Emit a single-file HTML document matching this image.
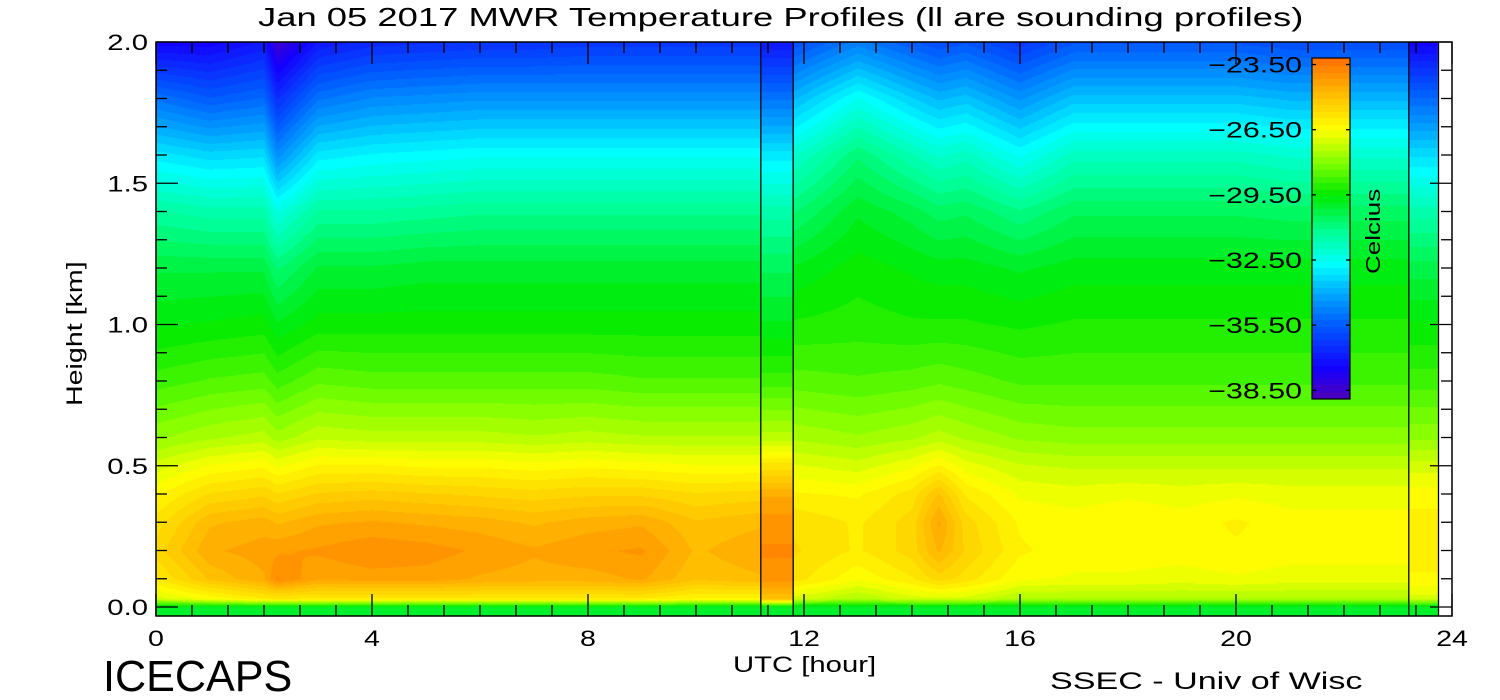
<!DOCTYPE html>
<html><head><meta charset="utf-8">
<style>
html,body{margin:0;padding:0;background:#fff;width:1500px;height:700px;overflow:hidden}
#wrap{position:relative;width:1500px;height:700px;font-family:"Liberation Sans",sans-serif;color:#000}
.t{position:absolute;white-space:nowrap;font-weight:normal}
canvas{position:absolute;left:0;top:0}
svg{position:absolute;left:0;top:0}
</style></head>
<body>
<div id="wrap">
<canvas id="cv" width="1500" height="700"></canvas>
<svg id="ov" width="1500" height="700"></svg>
<div class="t" style="left:258px;top:2px;font-size:26px;transform:scaleX(1.4);transform-origin:0 0">Jan 05 2017 MWR Temperature Profiles (ll are sounding profiles)</div>
<div class="t" style="left:62px;top:406px;font-size:22px;transform:rotate(-90deg) scaleX(1.3);transform-origin:0 0">Height [km]</div>
<div class="t" style="left:733px;top:652px;font-size:22px;transform:scaleX(1.33);transform-origin:0 0">UTC [hour]</div>
<div class="t" style="left:103px;top:652px;font-size:44px;transform:scaleX(0.98);transform-origin:0 0;-webkit-text-stroke:0">ICECAPS</div>
<div class="t" style="left:1050px;top:668px;font-size:24px;transform:scaleX(1.42);transform-origin:0 0">SSEC - Univ of Wisc</div>
<div class="t" style="left:1363px;top:274px;font-size:20px;transform:rotate(-90deg) scaleX(1.3);transform-origin:0 0">Celcius</div>
</div>
<script>
// ---- data ----
const heights = [0,0.03,0.1,0.2,0.3,0.4,0.5,0.6,0.8,1.0,1.2,1.4,1.6,1.8,2.0];
const timesA = [0,1,2,2.25,3,4,5,6,7,8,9,10,11.2];
const tempsA = [
[-30,-27,-26,-25.5,-25.8,-26.3,-27,-27.8,-28.8,-29.6,-30.2,-31.3,-33,-35,-37.5],
[-30,-26.5,-25,-24.5,-24.8,-25.6,-26.5,-27.5,-28.6,-29.5,-30.2,-31.5,-33.3,-35.5,-37.5],
[-30,-26,-24.5,-24.3,-24.6,-25.4,-26.3,-27.3,-28.5,-29.4,-30.2,-31.5,-33.2,-35.2,-37],
[-30,-26,-23.8,-24.2,-24.8,-25.6,-26.6,-27.6,-28.8,-29.8,-30.8,-32.3,-34.5,-36.5,-38.5],
[-30,-26,-24.4,-24.1,-24.5,-25.3,-26.2,-27.2,-28.4,-29.4,-30.1,-31.3,-33,-35,-37],
[-30,-26,-24.3,-23.9,-24.4,-25.2,-26.2,-27.3,-28.5,-29.4,-30.1,-31.3,-32.8,-34.6,-36.6],
[-30,-26,-24.3,-24,-24.5,-25.3,-26.3,-27.3,-28.5,-29.4,-30,-31.2,-32.7,-34.5,-36.5],
[-30,-26,-24.5,-24.2,-24.6,-25.4,-26.3,-27.3,-28.5,-29.4,-30,-31.1,-32.6,-34.4,-36.4],
[-30,-26,-24.6,-24.4,-24.8,-25.5,-26.4,-27.4,-28.5,-29.4,-30,-31.1,-32.6,-34.4,-36.4],
[-30,-26,-24.6,-24.2,-24.6,-25.4,-26.3,-27.3,-28.5,-29.4,-30,-31.1,-32.6,-34.4,-36.3],
[-30,-26,-24.4,-24.1,-24.5,-25.4,-26.4,-27.4,-28.6,-29.4,-30,-31.1,-32.6,-34.4,-36.3],
[-30,-26.3,-25,-24.8,-25,-25.6,-26.5,-27.4,-28.6,-29.4,-30,-31.1,-32.6,-34.4,-36.3],
[-30,-26.3,-24.8,-24.5,-24.8,-25.5,-26.5,-27.4,-28.6,-29.4,-30,-31.1,-32.6,-34.4,-36.3]
];
const timesB = [11.8,13,14,14.5,15,16,17,18,19,20,21,22,23.2];
const tempsB = [
[-30,-27,-25.8,-25.6,-25.7,-26.2,-26.8,-27.5,-28.5,-29.2,-29.8,-30.8,-32.0,-33.8,-35.8],
[-30,-27.5,-26.5,-26,-26,-26.3,-27,-27.7,-28.6,-29.1,-29.4,-29.9,-30.8,-32.5,-34.8],
[-30,-27,-26,-25.5,-25.5,-25.8,-26.6,-27.5,-28.5,-29.2,-29.6,-30.3,-31.6,-33.4,-35.5],
[-30,-27,-25.5,-24.7,-24.4,-25,-26.2,-27.3,-28.4,-29.2,-29.7,-30.6,-32.0,-33.8,-35.8],
[-30,-27,-25.8,-25.4,-25.5,-26,-26.7,-27.5,-28.5,-29.2,-29.7,-30.5,-31.8,-33.6,-35.6],
[-30,-27.5,-26.5,-26.2,-26.3,-26.6,-27.1,-27.8,-28.7,-29.3,-29.9,-31.0,-32.6,-34.4,-36.3],
[-30,-27.5,-26.6,-26.4,-26.4,-26.7,-27.2,-27.9,-28.7,-29.2,-29.7,-30.5,-31.8,-33.6,-35.6],
[-30,-27.5,-26.6,-26.4,-26.3,-26.6,-27.2,-27.9,-28.7,-29.2,-29.7,-30.5,-31.8,-33.6,-35.6],
[-30,-27.5,-26.7,-26.4,-26.4,-26.7,-27.2,-27.9,-28.7,-29.2,-29.7,-30.5,-31.8,-33.6,-35.6],
[-30,-27.5,-26.6,-26.3,-26.2,-26.6,-27.2,-27.9,-28.7,-29.2,-29.7,-30.5,-31.8,-33.6,-35.6],
[-30,-27.5,-26.7,-26.4,-26.4,-26.7,-27.2,-27.9,-28.7,-29.2,-29.7,-30.6,-32.0,-33.8,-35.8],
[-30,-27.5,-26.7,-26.4,-26.4,-26.7,-27.2,-27.9,-28.7,-29.2,-29.7,-30.6,-32.0,-33.8,-35.8],
[-30,-27.5,-26.7,-26.4,-26.4,-26.7,-27.2,-27.9,-28.7,-29.2,-29.7,-30.6,-32.0,-33.8,-35.8]
];
const sondeTimes = [[11.2,11.8],[23.2,23.75]];
const sondeTemps = [
[-30,-25,-24,-23.8,-24,-24.5,-25.8,-27.3,-28.8,-29.8,-30.5,-31.5,-33,-35,-37],
[-30,-27,-26.3,-26.1,-26.1,-26.4,-27,-27.8,-28.8,-29.5,-30.3,-31.5,-33.2,-35.2,-37.5]
];
const xTicks = [0,4,8,12,16,20,24];
const yTicks = ["0.0","0.5","1.0","1.5","2.0"];
const cbTicks = ["-23.50","-26.50","-29.50","-32.50","-35.50","-38.50"];

// ---- scales ----
const X0=156, X1=1452, YT=42, YB=616;
const xs = t => X0 + (X1-X0)*t/24;
const ys = h => 607 - 282.5*h;
const hAt = y => (607-y)/282.5;
const tAt = x => (x-X0)*24/(X1-X0);
const VMIN=-38.9, VMAX=-23.2;
const stops=[[-38.9,[80,0,180]],[-37.5,[20,0,255]],[-35.5,[0,90,255]],[-34,[0,170,255]],[-32.7,[0,255,255]],[-31.2,[0,255,150]],[-29.5,[0,235,0]],[-28,[130,255,0]],[-26.5,[255,255,0]],[-25,[255,195,0]],[-23.2,[255,110,0]]];
function cmap(v){
  v=Math.round(v/0.3)*0.3;
  if(v<=stops[0][0]) return stops[0][1];
  for(let i=1;i<stops.length;i++){ if(v<=stops[i][0]){const a=stops[i-1],b=stops[i],f=(v-a[0])/(b[0]-a[0]);return a[1].map((c,k)=>Math.round(c+(b[1][k]-c)*f));}}
  return stops[stops.length-1][1];
}
function profAt(row,h){
  if(h<=heights[0]) return row[0];
  for(let i=1;i<heights.length;i++){ if(h<=heights[i]){const f=(h-heights[i-1])/(heights[i]-heights[i-1]);return row[i-1]+(row[i]-row[i-1])*f;}}
  return row[row.length-1];
}
function gridVal(times,temps,t,h){
  let i=0; while(i<times.length-2 && t>times[i+1]) i++;
  let f=(t-times[i])/(times[i+1]-times[i]); f=Math.max(0,Math.min(1,f));
  return profAt(temps[i],h)*(1-f)+profAt(temps[i+1],h)*f;
}
const cv=document.getElementById('cv'), ctx=cv.getContext('2d');
const img=ctx.createImageData(X1-X0,YB-YT);
for(let y=YT;y<YB;y++){
  const h=Math.max(0,hAt(y));
  for(let x=X0;x<X1;x++){
    const t=tAt(x+0.5); let v=null;
    for(let s=0;s<sondeTimes.length;s++){ if(t>=sondeTimes[s][0]&&t<sondeTimes[s][1]) v=profAt(sondeTemps[s],h); }
    if(v===null){
      if(t>=sondeTimes[1][1]) { v=null; }
      else if(t<sondeTimes[0][0]) v=gridVal(timesA,tempsA,t,h);
      else v=gridVal(timesB,tempsB,t,h);
    }
    const p=((y-YT)*(X1-X0)+(x-X0))*4;
    const c = v===null?[255,255,255]:cmap(v);
    img.data[p]=c[0];img.data[p+1]=c[1];img.data[p+2]=c[2];img.data[p+3]=255;
  }
}
ctx.putImageData(img,X0,YT);
// colorbar
const CBX=1312,CBW=38,CBT=58,CBB=399;
for(let y=CBT;y<CBB;y++){const v=VMAX-(VMAX-VMIN)*(y-CBT)/(CBB-CBT);const c=cmap(v);ctx.fillStyle=`rgb(${c[0]},${c[1]},${c[2]})`;ctx.fillRect(CBX,y,CBW,1);}

// ---- overlay ----
const NS='http://www.w3.org/2000/svg', ov=document.getElementById('ov');
function el(tag,attrs,name){const e=document.createElementNS(NS,tag);for(const k in attrs)e.setAttribute(k,attrs[k]);


ov.appendChild(e);return e;}
function line(x1,y1,x2,y2,name){return el('line',{x1,y1,x2,y2,stroke:'#000','stroke-width':1.3},name);}
function widen(e,k){const w=e.getComputedTextLength();e.setAttribute('textLength',w*k);e.setAttribute('lengthAdjust','spacingAndGlyphs');}
el('rect',{x:X0,y:YT,width:X1-X0,height:YB-YT,fill:'none',stroke:'#000','stroke-width':1.5},'plot-frame');
sondeTimes.forEach((s,i)=>{line(xs(s[0]),YT,xs(s[0]),YB,'sounding-edge');line(xs(s[1]),YT,xs(s[1]),YB,'sounding-edge');});
for(let k=0;k<=36;k++){const t=k*24/36,x=xs(t),maj=k%6===0,L=maj?22:11;
  line(x,YB,x,YB-L,'x-tick');line(x,YT,x,YT+L,'x-tick');}
xTicks.forEach(t=>{const e=el('text',{x:xs(t),y:646,'font-size':22,'text-anchor':'middle','font-family':'Liberation Sans'},'x-tick-label');e.textContent=t;widen(e,1.3);});
for(let k=0;k<=20;k++){const h=k*0.1,y=ys(h),maj=k%5===0,L=maj?22:11;
  line(X0,y,X0+L,y,'y-tick');line(X1,y,X1-L,y,'y-tick');}
yTicks.forEach(s=>{const e=el('text',{x:148,y:ys(+s)+8,'font-size':22,'text-anchor':'end','font-family':'Liberation Sans'},'y-tick-label');e.textContent=s;widen(e,1.33);});
el('rect',{x:CBX,y:CBT,width:CBW,height:CBB-CBT,fill:'none',stroke:'#000','stroke-width':1.2},'colorbar-frame');
cbTicks.forEach(s=>{const v=+s,y=CBT+(VMAX-v)/(VMAX-VMIN)*(CBB-CBT);
  line(CBX,y,CBX+4,y,'colorbar-tick');line(CBX+CBW,y,CBX+CBW-4,y,'colorbar-tick');
  const e=el('text',{x:1302,y:y+8,'font-size':22,'text-anchor':'end','font-family':'Liberation Sans'},'colorbar-label');e.textContent=s.replace('-','\u2212');widen(e,1.38);});
</script>
</body></html>
